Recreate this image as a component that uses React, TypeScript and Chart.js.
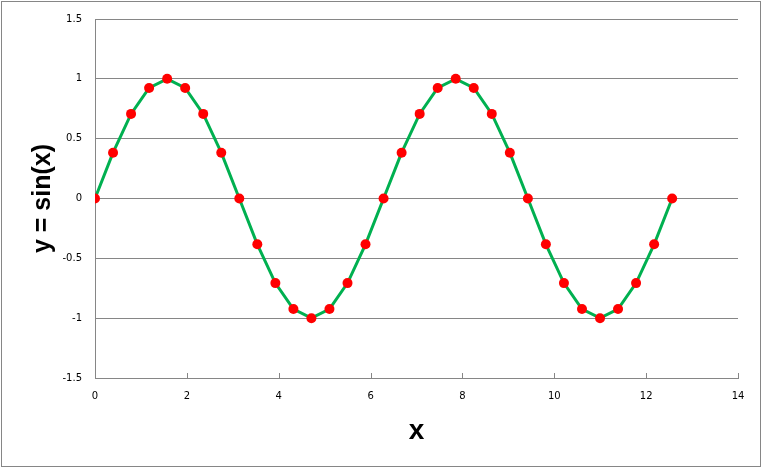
import React, { useEffect, useRef } from "react";
import { Chart, registerables } from "chart.js";

Chart.register(...registerables);

const xValues = [
  0, 0.393, 0.785, 1.178, 1.571, 1.963, 2.356, 2.749, 3.142, 3.534, 3.927,
  4.32, 4.712, 5.105, 5.498, 5.89, 6.283, 6.676, 7.069, 7.461, 7.854, 8.247,
  8.639, 9.032, 9.425, 9.817, 10.21, 10.603, 10.996, 11.388, 11.781, 12.174,
  12.566,
];
const yValues = [
  0, 0.383, 0.707, 0.924, 1, 0.924, 0.707, 0.383, 0, -0.383, -0.707, -0.924,
  -1, -0.924, -0.707, -0.383, 0, 0.383, 0.707, 0.924, 1, 0.924, 0.707, 0.383,
  0, -0.383, -0.707, -0.924, -1, -0.924, -0.707, -0.383, 0,
];
const xTitle = "x";
const yTitle = "y = sin(x)";
const xMin = 0, xMax = 14, xStep = 2;
const yMin = -1.5, yMax = 1.5, yStep = 0.5;

const AXIS_GRAY = "#868686";

const innerTicks = {
  id: "innerTicks",
  beforeDatasetsDraw(chart: any) {
    const xs = chart.scales.x;
    const ctx = chart.ctx;
    const bottom = chart.chartArea.bottom;
    ctx.save();
    ctx.strokeStyle = AXIS_GRAY;
    ctx.lineWidth = 1;
    ctx.beginPath();
    xs.ticks.forEach((t: any) => {
      const px = Math.round(xs.getPixelForValue(t.value)) + 0.5;
      ctx.moveTo(px, bottom);
      ctx.lineTo(px, bottom - 5);
    });
    ctx.stroke();
    ctx.restore();
  },
};

export default function App() {
  const ref = useRef<HTMLCanvasElement | null>(null);
  useEffect(() => {
    document.body.style.margin = "0";
    const data = xValues.map((x, i) => ({ x, y: yValues[i] }));
    const chart = new Chart(ref.current as HTMLCanvasElement, {
      type: "scatter",
      data: {
        datasets: [
          {
            data,
            showLine: true,
            borderColor: "#00B050",
            borderWidth: 3,
            tension: 0,
            pointRadius: 5,
            pointHoverRadius: 5,
            pointBackgroundColor: "#FF0000",
            pointBorderColor: "#FF0000",
            pointBorderWidth: 0,
          },
        ],
      },
      options: {
        animation: false,
        responsive: true,
        maintainAspectRatio: false,
        layout: { padding: { left: 0, top: 16, right: 23, bottom: 0 } },
        plugins: { legend: { display: false }, tooltip: { enabled: false } },
        scales: {
          x: {
            type: "linear",
            min: xMin,
            max: xMax,
            afterFit: (s: any) => {
              s.height = 89;
            },
            ticks: {
              stepSize: xStep,
              padding: 12,
              color: "#000",
              font: { family: "DejaVu Sans", size: 10 },
              maxRotation: 0,
              callback: (v: any) => String(v),
            },
            grid: { display: false, drawTicks: false },
            border: { display: true, color: AXIS_GRAY, width: 1 },
            title: {
              display: true,
              text: xTitle,
              color: "#000",
              font: { family: "Liberation Sans", size: 28, weight: "bold" },
              padding: { top: 0, bottom: 19 },
            },
          },
          y: {
            type: "linear",
            min: yMin,
            max: yMax,
            afterFit: (s: any) => {
              s.width = 95;
            },
            ticks: {
              stepSize: yStep,
              padding: 13,
              color: "#000",
              font: { family: "DejaVu Sans", size: 10 },
              callback: (v: any) => String(v),
            },
            grid: { display: true, color: AXIS_GRAY, lineWidth: 1, drawTicks: false },
            border: { display: true, color: AXIS_GRAY, width: 1 },
            title: {
              display: true,
              text: yTitle,
              color: "#000",
              font: { family: "Liberation Sans", size: 25, weight: "bold" },
              padding: { top: 28, bottom: 0 },
            },
          },
        },
      },
      plugins: [innerTicks],
    } as any);
    return () => chart.destroy();
  }, []);
  return (
    <div style={{ position: "fixed", left: 0, top: 0, width: 761, height: 467, background: "#fff" }}>
      <canvas ref={ref} />
      <div
        style={{
          position: "absolute",
          left: 1,
          top: 1,
          width: 760,
          height: 466,
          border: `1px solid ${AXIS_GRAY}`,
          boxSizing: "border-box",
          pointerEvents: "none",
        }}
      />
    </div>
  );
}
